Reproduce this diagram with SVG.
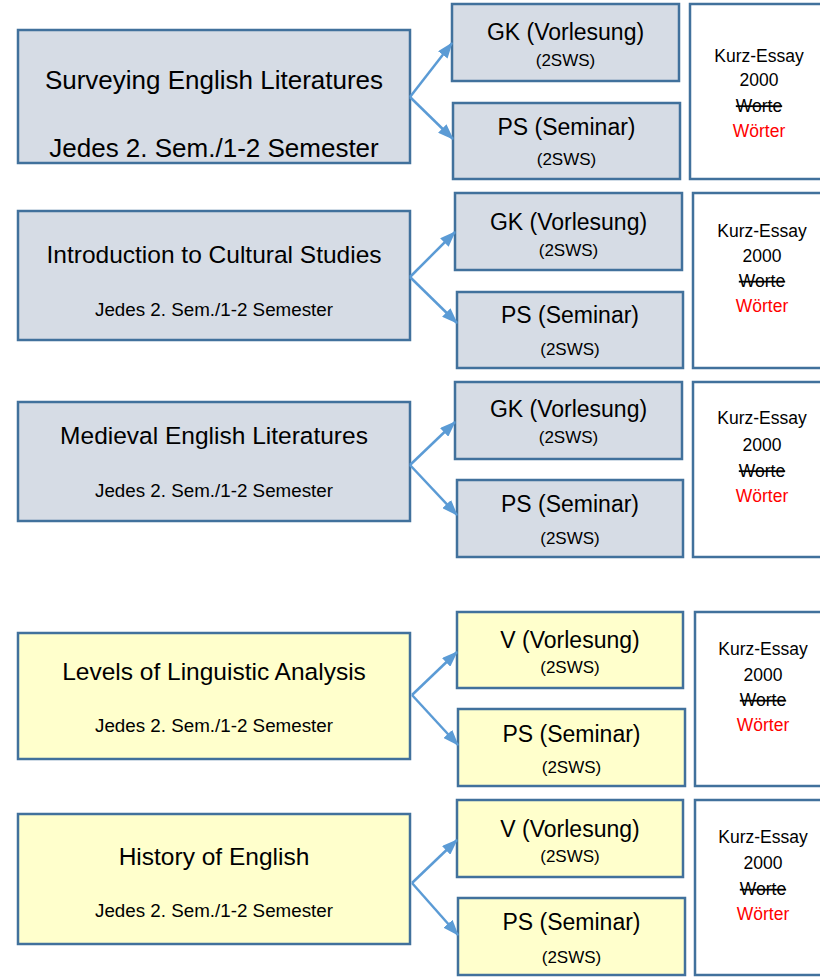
<svg xmlns="http://www.w3.org/2000/svg" width="820" height="980" viewBox="0 0 820 980">
<style>
  text { font-family: "Liberation Sans", Arial, sans-serif; fill: #000; text-anchor: middle; }
  .main { fill: #D6DCE5; stroke: #41719C; stroke-width: 2.5; }
  .ling { fill: #FFFFCC; stroke: #41719C; stroke-width: 2.5; }
  .essay { fill: #FFFFFF; stroke: #41719C; stroke-width: 2.5; }
  .t1 { font-size: 26px; }
  .t2 { font-size: 24.5px; }
  .s2 { font-size: 18.8px; }
  .c { font-size: 23px; }
  .sws { font-size: 17px; }
  .e { font-size: 17.5px; }
  .strike { text-decoration: line-through; }
  .red { fill: #FF0000; }
  .arrow { stroke: #5B9BD5; stroke-width: 2.5; fill: none; marker-end: url(#ah); }
</style>
<defs>
  <marker id="ah" markerUnits="userSpaceOnUse" markerWidth="16" markerHeight="12" refX="15" refY="6" orient="auto">
    <path d="M0,0 L16,6 L0,12 Z" fill="#5B9BD5"/>
  </marker>
</defs>

<!-- Row 1 -->
<g id="surveying">
  <rect class="main" x="18" y="30" width="392" height="133"/>
  <text class="t1" x="214" y="89">Surveying English Literatures</text>
  <text class="t1" x="214" y="157">Jedes 2. Sem./1-2 Semester</text>
</g>
<g id="surveying-gk">
  <rect class="main" x="452" y="4" width="227" height="77"/>
  <text class="c" x="565.5" y="40">GK (Vorlesung)</text>
  <text class="sws" x="565.5" y="66">(2SWS)</text>
</g>
<g id="surveying-ps">
  <rect class="main" x="453" y="103" width="227" height="76"/>
  <text class="c" x="566.5" y="135">PS (Seminar)</text>
  <text class="sws" x="566.5" y="165">(2SWS)</text>
</g>
<g id="surveying-essay">
  <rect class="essay" x="690" y="4" width="140" height="175"/>
  <text class="e" x="759" y="61.5">Kurz-Essay</text>
  <text class="e" x="759" y="86">2000</text>
  <text class="e strike" x="759" y="111.5">Worte</text>
  <text class="e red" x="759" y="136.5">Wörter</text>
</g>

<!-- Row 2 -->
<g id="cultural">
  <rect class="main" x="18" y="211" width="392" height="129"/>
  <text class="t2" x="214" y="263">Introduction to Cultural Studies</text>
  <text class="s2" x="214" y="316">Jedes 2. Sem./1-2 Semester</text>
</g>
<g id="cultural-gk">
  <rect class="main" x="455" y="193" width="227" height="77"/>
  <text class="c" x="568.5" y="230">GK (Vorlesung)</text>
  <text class="sws" x="568.5" y="256">(2SWS)</text>
</g>
<g id="cultural-ps">
  <rect class="main" x="457" y="292" width="226" height="76"/>
  <text class="c" x="570" y="322.5">PS (Seminar)</text>
  <text class="sws" x="570" y="355">(2SWS)</text>
</g>
<g id="cultural-essay">
  <rect class="essay" x="693" y="193" width="140" height="175"/>
  <text class="e" x="762" y="236.5">Kurz-Essay</text>
  <text class="e" x="762" y="261.5">2000</text>
  <text class="e strike" x="762" y="287">Worte</text>
  <text class="e red" x="762" y="311.5">Wörter</text>
</g>

<!-- Row 3 -->
<g id="medieval">
  <rect class="main" x="18" y="402" width="392" height="119"/>
  <text class="t2" x="214" y="444">Medieval English Literatures</text>
  <text class="s2" x="214" y="497">Jedes 2. Sem./1-2 Semester</text>
</g>
<g id="medieval-gk">
  <rect class="main" x="455" y="382" width="227" height="77"/>
  <text class="c" x="568.5" y="417">GK (Vorlesung)</text>
  <text class="sws" x="568.5" y="443">(2SWS)</text>
</g>
<g id="medieval-ps">
  <rect class="main" x="457" y="480" width="226" height="77"/>
  <text class="c" x="570" y="511.5">PS (Seminar)</text>
  <text class="sws" x="570" y="544">(2SWS)</text>
</g>
<g id="medieval-essay">
  <rect class="essay" x="693" y="382" width="140" height="175"/>
  <text class="e" x="762" y="424">Kurz-Essay</text>
  <text class="e" x="762" y="451">2000</text>
  <text class="e strike" x="762" y="476.5">Worte</text>
  <text class="e red" x="762" y="501.5">Wörter</text>
</g>

<!-- Row 4 -->
<g id="linguistic">
  <rect class="ling" x="18" y="633" width="392" height="126"/>
  <text class="t2" x="214" y="680">Levels of Linguistic Analysis</text>
  <text class="s2" x="214" y="731.5">Jedes 2. Sem./1-2 Semester</text>
</g>
<g id="linguistic-v">
  <rect class="ling" x="457" y="612" width="226" height="76"/>
  <text class="c" x="570" y="648">V (Vorlesung)</text>
  <text class="sws" x="570" y="673">(2SWS)</text>
</g>
<g id="linguistic-ps">
  <rect class="ling" x="458" y="709" width="227" height="77"/>
  <text class="c" x="571.5" y="741.5">PS (Seminar)</text>
  <text class="sws" x="571.5" y="773">(2SWS)</text>
</g>
<g id="linguistic-essay">
  <rect class="essay" x="695" y="612" width="140" height="174"/>
  <text class="e" x="763" y="655">Kurz-Essay</text>
  <text class="e" x="763" y="681">2000</text>
  <text class="e strike" x="763" y="706">Worte</text>
  <text class="e red" x="763" y="731">Wörter</text>
</g>

<!-- Row 5 -->
<g id="history">
  <rect class="ling" x="18" y="814" width="392" height="130"/>
  <text class="t2" x="214" y="865">History of English</text>
  <text class="s2" x="214" y="917">Jedes 2. Sem./1-2 Semester</text>
</g>
<g id="history-v">
  <rect class="ling" x="457" y="800" width="226" height="77"/>
  <text class="c" x="570" y="836.5">V (Vorlesung)</text>
  <text class="sws" x="570" y="861.5">(2SWS)</text>
</g>
<g id="history-ps">
  <rect class="ling" x="458" y="898" width="227" height="77"/>
  <text class="c" x="571.5" y="930">PS (Seminar)</text>
  <text class="sws" x="571.5" y="962.5">(2SWS)</text>
</g>
<g id="history-essay">
  <rect class="essay" x="695" y="800" width="140" height="175"/>
  <text class="e" x="763" y="843">Kurz-Essay</text>
  <text class="e" x="763" y="869">2000</text>
  <text class="e strike" x="763" y="895">Worte</text>
  <text class="e red" x="763" y="920">Wörter</text>
</g>

<!-- Connectors -->
<g id="connectors">
  <line class="arrow" x1="410" y1="97" x2="452" y2="43"/>
  <line class="arrow" x1="410" y1="97" x2="453" y2="139"/>
  <line class="arrow" x1="410" y1="277" x2="455" y2="232"/>
  <line class="arrow" x1="410" y1="277" x2="457" y2="323"/>
  <line class="arrow" x1="410" y1="465" x2="455" y2="422"/>
  <line class="arrow" x1="410" y1="465" x2="457" y2="515"/>
  <line class="arrow" x1="412" y1="695" x2="457" y2="652"/>
  <line class="arrow" x1="412" y1="695" x2="458" y2="745"/>
  <line class="arrow" x1="412" y1="883" x2="457" y2="840"/>
  <line class="arrow" x1="412" y1="883" x2="458" y2="935"/>
</g>
</svg>
